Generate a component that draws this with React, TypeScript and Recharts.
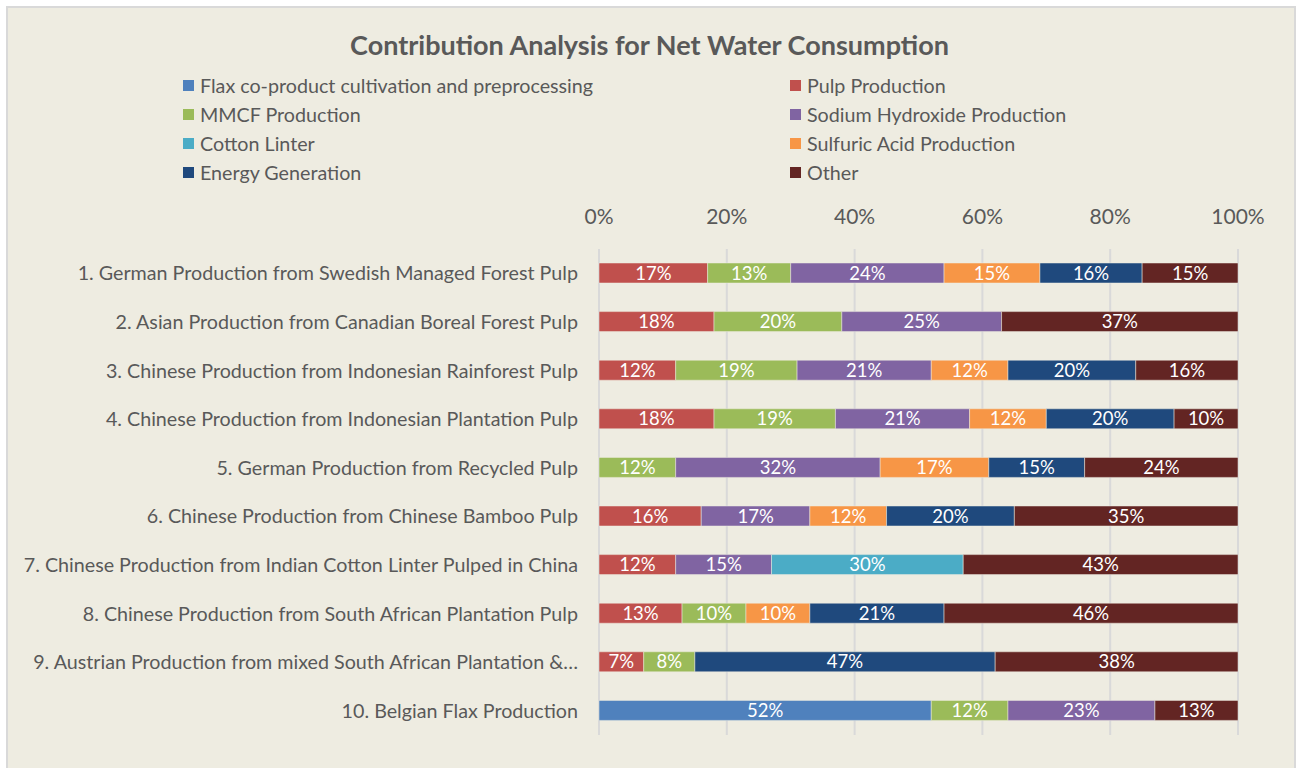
import React from 'react';
import { BarChart, Bar, XAxis, YAxis, CartesianGrid, LabelList } from 'recharts';

const categories = [
  '1. German Production from Swedish Managed Forest Pulp',
  '2. Asian Production from Canadian Boreal Forest Pulp',
  '3. Chinese Production from Indonesian Rainforest Pulp',
  '4. Chinese Production from Indonesian Plantation Pulp',
  '5. German Production from Recycled Pulp',
  '6. Chinese Production from Chinese Bamboo Pulp',
  '7. Chinese Production from Indian Cotton Linter Pulped in China',
  '8. Chinese Production from South African Plantation Pulp',
  '9. Austrian Production from mixed South African Plantation &…',
  '10. Belgian Flax Production',
];

const flax = [null, null, null, null, null, null, null, null, null, 52];
const pulp = [17, 18, 12, 18, null, 16, 12, 13, 7, null];
const mmcf = [13, 20, 19, 19, 12, null, null, 10, 8, 12];
const sodium = [24, 25, 21, 21, 32, 17, 15, null, null, 23];
const cotton = [null, null, null, null, null, null, 30, null, null, null];
const sulfuric = [15, null, 12, 12, 17, 12, null, 10, null, null];
const energy = [16, null, 20, 20, 15, 20, null, 21, 47, null];
const other = [15, 37, 16, 10, 24, 35, 43, 46, 38, 13];

const xTicks = [0, 20, 40, 60, 80, 100];

const series = [
  { key: 'flax', name: 'Flax co-product cultivation and preprocessing', values: flax, color: '#4F81BD' },
  { key: 'pulp', name: 'Pulp Production', values: pulp, color: '#C0504D' },
  { key: 'mmcf', name: 'MMCF Production', values: mmcf, color: '#9BBB59' },
  { key: 'sodium', name: 'Sodium Hydroxide Production', values: sodium, color: '#8064A2' },
  { key: 'cotton', name: 'Cotton Linter', values: cotton, color: '#4BACC6' },
  { key: 'sulfuric', name: 'Sulfuric Acid Production', values: sulfuric, color: '#F79646' },
  { key: 'energy', name: 'Energy Generation', values: energy, color: '#1F497D' },
  { key: 'other', name: 'Other', values: other, color: '#632523' },
];

const data = categories.map((name, i) => {
  const row: Record<string, any> = { name };
  series.forEach((s) => {
    row[s.key] = s.values[i];
  });
  return row;
});

const FONT = 'Lato, "Open Sans", sans-serif';
const TEXT = '#595959';

const YTick = (props: any) => {
  const { y, payload } = props;
  return (
    <text x={578} y={y} dy={7} textAnchor="end" fill={TEXT} fontSize={19.7} fontFamily={FONT}>
      {payload.value}
    </text>
  );
};

const XTick = (props: any) => {
  const { x, payload } = props;
  return (
    <text x={x} y={217} dy={7} textAnchor="middle" fill={TEXT} fontSize={21} fontFamily={FONT}>
      {payload.value}%
    </text>
  );
};

const SegLabel = (props: any) => {
  const { x, y, width, height, value } = props;
  if (value === null || value === undefined) return null;
  return (
    <text
      x={x + width / 2}
      y={y + height / 2}
      dy={6.5}
      textAnchor="middle"
      fill="#FFFFFF"
      fontSize={18.5}
      fontFamily={FONT}
    >
      {value}%
    </text>
  );
};

// legend is laid out in two columns, filled row by row
const legendLeft = series.filter((_, i) => i % 2 === 0);
const legendRight = series.filter((_, i) => i % 2 === 1);

function LegendColumn({ items, left }: { items: typeof series; left: number }) {
  return (
    <div style={{ position: 'absolute', left, top: 71 }}>
      {items.map((s) => (
        <div key={s.key} style={{ display: 'flex', alignItems: 'center', height: 29 }}>
          <span style={{ width: 11, height: 11, background: s.color, marginRight: 6, display: 'inline-block' }} />
          <span style={{ fontSize: 19.7, color: TEXT, fontFamily: FONT, whiteSpace: 'nowrap' }}>{s.name}</span>
        </div>
      ))}
    </div>
  );
}

export default function App() {
  return (
    <div style={{ position: 'fixed', left: 0, top: 0, width: 1299, height: 768, overflow: 'hidden', background: '#FFFFFF' }}>
      <div
        style={{
          position: 'absolute',
          left: 6,
          top: 6,
          width: 1286,
          height: 790,
          background: '#EEECE1',
          border: '2px solid #D9D9D9',
        }}
      />
      <div
        style={{
          position: 'absolute',
          left: 0,
          width: 1299,
          top: 28,
          textAlign: 'center',
          fontFamily: FONT,
          fontWeight: 700,
          fontSize: 27,
          color: TEXT,
        }}
      >
        Contribution Analysis for Net Water Consumption
      </div>
      <LegendColumn items={legendLeft} left={183} />
      <LegendColumn items={legendRight} left={790} />
      <div style={{ position: 'absolute', left: 0, top: 0 }}>
        <BarChart
          width={1299}
          height={768}
          data={data}
          layout="vertical"
          margin={{ top: 200, right: 61, bottom: 33, left: 0 }}
          barSize={20}
        >
          <CartesianGrid horizontal={false} stroke="#D9D9D9" strokeWidth={2} />
          <XAxis
            type="number"
            orientation="top"
            domain={[0, 100]}
            ticks={xTicks}
            height={49}
            axisLine={false}
            tickLine={false}
            tick={<XTick />}
            interval={0}
          />
          <YAxis
            type="category"
            dataKey="name"
            width={599}
            axisLine={false}
            tickLine={false}
            tick={<YTick />}
            interval={0}
          />
          {series.map((s) => (
            <Bar
              key={s.key}
              dataKey={s.key}
              name={s.name}
              stackId="a"
              fill={s.color}
              stroke="#EEECE1"
              strokeWidth={0.5}
              isAnimationActive={false}
            >
              <LabelList dataKey={s.key} content={<SegLabel />} />
            </Bar>
          ))}
        </BarChart>
      </div>
    </div>
  );
}
